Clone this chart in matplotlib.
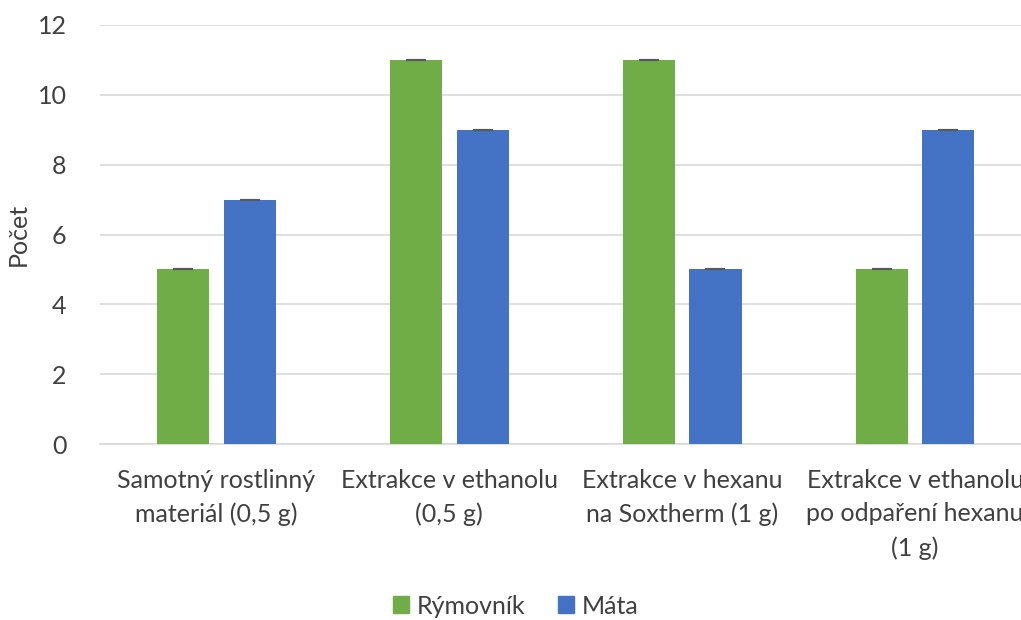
import matplotlib
matplotlib.use('Agg')
import matplotlib.pyplot as plt
import numpy as np
from matplotlib.patches import Patch

categories = [
    'Samotný rostlinný\nmateriál (0,5 g)',
    'Extrakce v ethanolu\n(0,5 g)',
    'Extrakce v hexanu\nna Soxtherm (1 g)',
    'Extrakce v ethanolu\npo odpaření hexanu\n(1 g)',
]
rymovnik = [5, 11, 11, 5]
mata = [7, 9, 5, 9]
series_names = ['Rýmovník', 'Máta']

GREEN = '#70AD47'
BLUE = '#4472C4'
TEXT = '#404040'

plt.rcParams['font.family'] = ['Lato', 'DejaVu Sans']

fig = plt.figure(figsize=(10.21, 6.2), dpi=100)
ax = fig.add_axes([100 / 1021, 1 - 444 / 620, 931.5 / 1021, 419 / 620])

x = np.arange(len(categories))
w = 0.224
off = 0.143
err_kw = dict(ecolor='#595959', capsize=7, elinewidth=1, capthick=1.5)
ax.bar(x - off, rymovnik, w, color=GREEN, yerr=[0] * 4, error_kw=err_kw, zorder=3)
ax.bar(x + off, mata, w, color=BLUE, yerr=[0] * 4, error_kw=err_kw, zorder=3)

ax.set_xlim(-0.5, 3.5)
ax.set_ylim(0, 12)
ax.set_yticks(range(0, 13, 2))
ax.set_xticks(x)
ax.set_xticklabels(categories, fontsize=18, color=TEXT, linespacing=1.55)
ax.tick_params(axis='y', labelsize=18, labelcolor=TEXT, length=0, pad=24)
ax.tick_params(axis='x', length=0, pad=18)
ax.yaxis.grid(True, color='#D9D9D9', linewidth=1.2, zorder=0)
for s in ['top', 'right', 'left']:
    ax.spines[s].set_visible(False)
ax.spines['bottom'].set_color('#D9D9D9')
ax.spines['bottom'].set_linewidth(1.2)
ax.set_ylabel('Počet', fontsize=18, color=TEXT, labelpad=6)

handles = [Patch(color=GREEN), Patch(color=BLUE)]
fig.legend(handles, series_names, loc='center', bbox_to_anchor=(0.505, 1 - 606 / 620), ncol=2,
           frameon=False, fontsize=18, labelcolor=TEXT, handlelength=0.65, handleheight=0.65,
           handletextpad=0.3, columnspacing=1.3)

fig.savefig('out.png', dpi=100)
